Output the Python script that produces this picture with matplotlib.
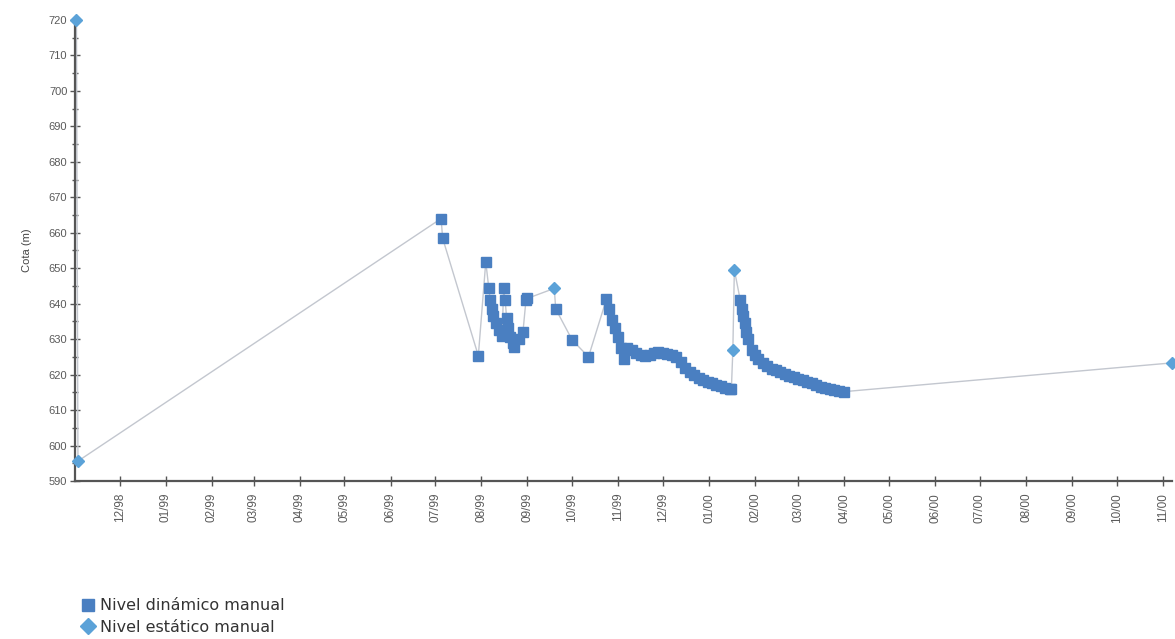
import matplotlib
matplotlib.use("Agg")
import matplotlib.pyplot as plt
import matplotlib.dates as mdates
from matplotlib.lines import Line2D
from matplotlib.ticker import MultipleLocator
import pandas as pd

plt.rcParams['font.family'] = ['Liberation Sans', 'DejaVu Sans']

# Manual dynamic level readings (square markers)
dyn_dates = [
    "1999-07-05", "1999-07-06", "1999-07-30", "1999-08-04", "1999-08-06",
    "1999-08-07", "1999-08-08", "1999-08-09", "1999-08-11", "1999-08-13",
    "1999-08-15", "1999-08-16", "1999-08-17", "1999-08-18", "1999-08-19",
    "1999-08-20", "1999-08-22", "1999-08-23", "1999-08-26", "1999-08-29",
    "1999-08-31", "1999-09-01", "1999-09-20", "1999-10-01", "1999-10-12",
    "1999-10-24", "1999-10-26", "1999-10-28", "1999-10-30", "1999-11-01",
    "1999-11-03", "1999-11-05", "1999-11-07", "1999-11-10", "1999-11-13",
    "1999-11-16", "1999-11-19", "1999-11-22", "1999-11-25", "1999-11-28",
    "1999-12-01", "1999-12-04", "1999-12-07", "1999-12-10", "1999-12-13",
    "1999-12-16", "1999-12-19", "1999-12-22", "1999-12-25", "1999-12-28",
    "1999-12-31", "2000-01-03", "2000-01-06", "2000-01-09", "2000-01-12",
    "2000-01-15", "2000-01-16", "2000-01-22", "2000-01-23", "2000-01-24",
    "2000-01-25", "2000-01-26", "2000-01-27", "2000-01-30", "2000-02-01",
    "2000-02-03", "2000-02-06", "2000-02-09", "2000-02-12", "2000-02-15",
    "2000-02-18", "2000-02-21", "2000-02-24", "2000-02-27", "2000-03-01",
    "2000-03-04", "2000-03-07", "2000-03-10", "2000-03-13", "2000-03-16",
    "2000-03-19", "2000-03-22", "2000-03-25", "2000-03-28", "2000-04-01",
]
dyn_levels = [
    664.0, 658.5, 625.3, 651.8, 644.5,
    641.0, 638.5, 636.5, 634.5, 632.5,
    631.0, 644.3, 641.0, 636.0, 633.0,
    630.7, 629.0, 627.9, 630.0, 632.1,
    641.0, 641.5, 638.5, 629.8, 625.0,
    641.2, 638.5, 635.5, 633.0, 630.5,
    627.5, 624.3, 627.5, 626.8, 626.0,
    625.5, 625.3, 625.5, 626.0, 626.3,
    626.2, 625.8, 625.5, 625.0, 623.5,
    622.0, 620.8, 619.8, 619.0, 618.5,
    618.0, 617.6, 617.2, 616.7, 616.3,
    616.0, 615.8, 641.0, 638.5, 636.5,
    634.5, 632.0, 630.0, 627.0, 625.5,
    624.5, 623.3, 622.3, 621.7, 621.2,
    620.8, 620.2, 619.7, 619.3, 618.8,
    618.4, 618.0, 617.5, 617.0, 616.6,
    616.2, 615.9, 615.6, 615.3, 615.2,
]

# Manual static level readings (diamond markers)
sta_dates = ["1998-11-02", "1998-11-03", "1999-09-19", "2000-01-17",
             "2000-01-18", "2000-11-07"]
sta_levels = [720.0, 595.6, 644.3, 627.0, 649.5, 623.3]

month_ticks = pd.date_range("1998-12-01", "2000-11-01", freq="MS")

dyn = pd.DataFrame({"fecha": pd.to_datetime(dyn_dates), "cota": dyn_levels})
sta = pd.DataFrame({"fecha": pd.to_datetime(sta_dates), "cota": sta_levels})
todo = pd.concat([dyn, sta]).sort_values("fecha", kind="stable")

sq_color = "#4a7fc1"
dia_color = "#5ba2d8"
line_color = "#c3c7cf"
axis_color = "#555555"

fig = plt.figure(figsize=(11.75, 6.39), dpi=100)
ax = fig.add_axes([0.0638, 0.2473, 0.9336, 0.7214])

ax.plot(todo["fecha"], todo["cota"], color=line_color, lw=1.0, zorder=2,
        clip_on=False)
ax.plot(dyn["fecha"], dyn["cota"], ls="none", marker="s", ms=7.8,
        color=sq_color, mec=sq_color, zorder=3, clip_on=False)
ax.plot(sta["fecha"], sta["cota"], ls="none", marker="D", ms=6,
        color=dia_color, mec=dia_color, zorder=4, clip_on=False)

ax.set_ylim(590, 720)
ax.set_xlim(pd.Timestamp("1998-11-01"), pd.Timestamp("2000-11-07"))
ax.yaxis.set_major_locator(MultipleLocator(10))
ax.yaxis.set_minor_locator(MultipleLocator(5))
ax.set_xticks(month_ticks)
ax.xaxis.set_major_formatter(mdates.DateFormatter("%m/%y"))

for side in ("top", "right"):
    ax.spines[side].set_visible(False)
for side in ("left", "bottom"):
    ax.spines[side].set_color(axis_color)
    ax.spines[side].set_linewidth(1.6)

ax.tick_params(axis="both", which="major", direction="inout", length=7,
               width=1.0, color=axis_color, labelcolor="#5a5a5a", pad=2)
ax.tick_params(axis="y", which="major", labelsize=8)
ax.tick_params(axis="y", which="minor", direction="inout", length=5,
               width=1.0, color=axis_color)
ax.tick_params(axis="x", which="major", pad=5, labelsize=8.5,
               labelrotation=90)

ax.set_ylabel("Cota (m)", fontsize=8, color="#444444", labelpad=12)

handles = [
    Line2D([], [], ls="none", marker="s", ms=9, color=sq_color),
    Line2D([], [], ls="none", marker="D", ms=8, color=dia_color),
]
leg = fig.legend(handles, ["Nivel dinámico manual", "Nivel estático manual"],
                 loc="lower left", bbox_to_anchor=(0.061, -0.008),
                 frameon=False, prop={"family": "DejaVu Sans", "size": 11.5},
                 handlelength=0.8, handletextpad=0.35, labelspacing=0.4,
                 labelcolor="#333333", borderaxespad=0.2)

fig.savefig("out.png", dpi=100, facecolor="white")
